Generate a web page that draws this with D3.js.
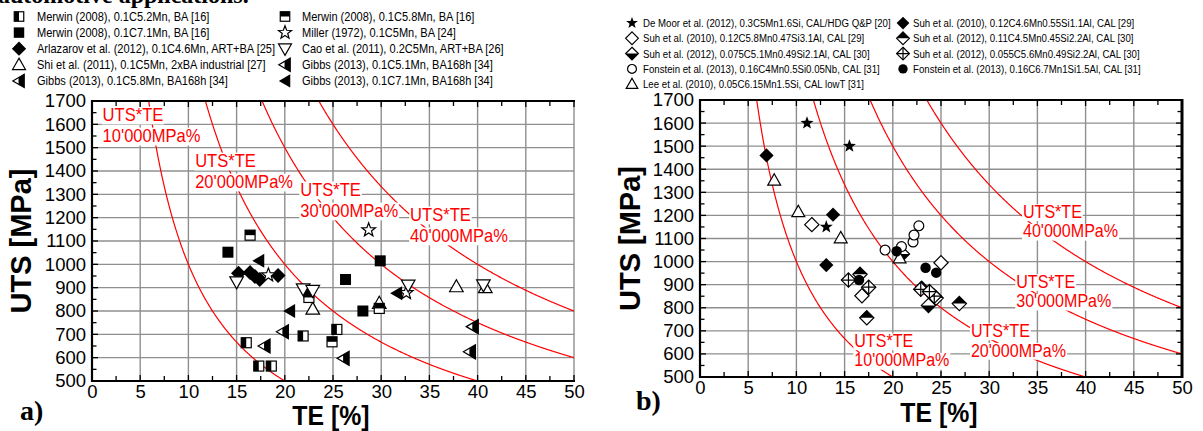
<!DOCTYPE html>
<html><head><meta charset="utf-8">
<script src="https://cdn.jsdelivr.net/npm/d3@7"></script>
<style>
body{margin:0;background:#fff}
svg{display:block}
text{font-family:'Liberation Sans',Arial,sans-serif}
</style>
</head><body>
<svg id="c" width="1203" height="431"></svg>
<script>
// ---------- shared axis data ----------
const xTicks = [0,5,10,15,20,25,30,35,40,45,50];
const yTicks = [500,600,700,800,900,1000,1100,1200,1300,1400,1500,1600,1700];
const productLevels = [10000,20000,30000,40000];
const productLabels = ["10'000MPa%","20'000MPa%","30'000MPa%","40'000MPa%"];
const productTitle = "UTS*TE";
// label anchors (TE, UTS) for each iso-product curve
const leftLabelTE = [1.1, 10.7, 21.6, 33.0];
const leftLabelUTS = [1613, 1416, 1292, 1185];
const rightLabelTE = [16.0, 28.1, 32.8, 33.5];
const rightLabelUTS = [630, 673, 886, 1189];

// ---------- panel a) series ----------
const merwin52TE = [16.0, 17.3, 18.6, 21.9, 25.4];
const merwin52UTS = [664, 564, 564, 693, 721];
const merwin58TE = [16.4, 22.5, 24.9, 29.8];
const merwin58UTS = [1125, 858, 668, 811];
const merwin71TE = [14.1, 22.5, 26.3, 28.1, 29.9];
const merwin71UTS = [1052, 878, 935, 800, 1015];
const millerTE = [18.3, 28.7, 32.6];
const millerUTS = [954, 1147, 878];
const arlazarovTE = [15.2, 16.4, 16.9, 17.4, 19.3];
const arlazarovUTS = [962, 965, 948, 935, 952];
const caoTE = [15.0, 21.9, 22.9, 32.8, 40.6];
const caoUTS = [925, 895, 888, 911, 912];
const shiTE = [22.9, 29.8, 37.8, 40.8];
const shiUTS = [808, 833, 904, 900];
const gibbs51TE = [17.9, 26.1, 39.2];
const gibbs51UTS = [650, 597, 625];
const gibbs58TE = [19.8, 39.5];
const gibbs58UTS = [711, 733];
const gibbs71TE = [17.3, 20.5, 31.6];
const gibbs71UTS = [1015, 800, 876];

// ---------- panel b) series ----------
const deMoorTE = [11.1, 15.5, 13.1];
const deMoorUTS = [1600, 1500, 1150];
const suh10aTE = [6.9, 13.8, 13.1, 23.0];
const suh10aUTS = [1460, 1203, 985, 888];
const suh10bTE = [11.6, 25.0, 16.8];
const suh10bUTS = [1160, 995, 852];
const suh12aTE = [23.7, 21.0];
const suh12aUTS = [810, 1033];
const suh12bTE = [16.6, 17.3, 26.9, 24.5];
const suh12bUTS = [945, 757, 818, 842];
const suh12cTE = [15.4, 17.5, 22.9, 24.3, 23.8];
const suh12cUTS = [920, 889, 880, 850, 870];
const fonsteinOTE = [19.2, 20.9, 22.1, 22.2, 22.7];
const fonsteinOUTS = [1050, 1065, 1085, 1115, 1155];
const fonsteinFTE = [20.4, 16.5, 23.4, 24.5];
const fonsteinFUTS = [1045, 920, 973, 952];
const leeTE = [7.7, 10.2, 14.6, 20.7];
const leeUTS = [1352, 1215, 1102, 1015];

const leftSeries = [
  {name:"Merwin (2008), 0.1C5.2Mn, BA [16]", m:"sqL", te:merwin52TE, uts:merwin52UTS},
  {name:"Merwin (2008), 0.1C7.1Mn, BA [16]", m:"sqF", te:merwin71TE, uts:merwin71UTS},
  {name:"Arlazarov et al. (2012), 0.1C4.6Mn, ART+BA [25]", m:"diaF", te:arlazarovTE, uts:arlazarovUTS},
  {name:"Shi et al. (2011), 0.1C5Mn, 2xBA industrial [27]", m:"triU", te:shiTE, uts:shiUTS},
  {name:"Gibbs (2013), 0.1C5.8Mn, BA168h [34]", m:"triLH", te:gibbs58TE, uts:gibbs58UTS},
  {name:"Merwin (2008), 0.1C5.8Mn, BA [16]", m:"sqT", te:merwin58TE, uts:merwin58UTS},
  {name:"Miller (1972), 0.1C5Mn, BA [24]", m:"starO", te:millerTE, uts:millerUTS},
  {name:"Cao et al. (2011), 0.2C5Mn, ART+BA [26]", m:"triD", te:caoTE, uts:caoUTS},
  {name:"Gibbs (2013), 0.1C5.1Mn, BA168h [34]", m:"triLH", te:gibbs51TE, uts:gibbs51UTS},
  {name:"Gibbs (2013), 0.1C7.1Mn, BA168h [34]", m:"triLF", te:gibbs71TE, uts:gibbs71UTS}
];
const rightSeries = [
  {name:"De Moor et al. (2012), 0.3C5Mn1.6Si, CAL/HDG Q&P [20]", m:"starF", te:deMoorTE, uts:deMoorUTS},
  {name:"Suh et al. (2010), 0.12C5.8Mn0.47Si3.1Al, CAL [29]", m:"diaO", te:suh10bTE, uts:suh10bUTS},
  {name:"Suh et al. (2012), 0.075C5.1Mn0.49Si2.1Al, CAL [30]", m:"diaB", te:suh12aTE, uts:suh12aUTS},
  {name:"Fonstein et al. (2013), 0.16C4Mn0.5Si0.05Nb, CAL [31]", m:"cirO", te:fonsteinOTE, uts:fonsteinOUTS},
  {name:"Lee et al. (2010), 0.05C6.15Mn1.5Si, CAL lowT [31]", m:"triU", te:leeTE, uts:leeUTS},
  {name:"Suh et al. (2010), 0.12C4.6Mn0.55Si1.1Al, CAL [29]", m:"diaF", te:suh10aTE, uts:suh10aUTS},
  {name:"Suh et al. (2012), 0.11C4.5Mn0.45Si2.2Al, CAL [30]", m:"diaT", te:suh12bTE, uts:suh12bUTS},
  {name:"Suh et al. (2012), 0.055C5.6Mn0.49Si2.2Al, CAL [30]", m:"diaX", te:suh12cTE, uts:suh12cUTS},
  {name:"Fonstein et al. (2013), 0.16C6.7Mn1Si1.5Al, CAL [31]", m:"cirF", te:fonsteinFTE, uts:fonsteinFUTS}
];

const svg = d3.select("#c");
const GRID = "#8f8f8f";

// text with horizontal compression (narrow face look)
function ntext(g, x, y, str, size, sx, opts) {
  opts = opts || {};
  const t = g.append("text")
    .attr("transform", `translate(${x},${y}) scale(${sx},1)`)
    .attr("font-size", size).text(str);
  if (opts.anchor) t.attr("text-anchor", opts.anchor);
  if (opts.weight) t.attr("font-weight", opts.weight);
  if (opts.fill) t.attr("fill", opts.fill);
  if (opts.dy) t.attr("dy", opts.dy);
  return t;
}

function marker(g, type, x, y, k) {
  k = k || 1;
  const m = g.append("g").attr("transform", `translate(${x},${y}) scale(${k})`);
  const sw = 1.2 / k;
  const poly = pts => "M" + pts.map(p => p.join(",")).join("L") + "Z";
  const star = () => {
    const pts = [];
    for (let i = 0; i < 10; i++) {
      const r = i % 2 ? 3.0 : 7.2, a = -Math.PI/2 + i*Math.PI/5;
      pts.push([(r*Math.cos(a)).toFixed(2), (r*Math.sin(a)).toFixed(2)]);
    }
    return poly(pts);
  };
  const dia = poly([[0,-7.5],[7.5,0],[0,7.5],[-7.5,0]]);
  const W = "#fff", B = "#000";
  switch (type) {
    case "sqL":
      m.append("rect").attr("x",-5).attr("y",-5).attr("width",10).attr("height",10).attr("fill",W).attr("stroke",B).attr("stroke-width",sw);
      m.append("rect").attr("x",-5).attr("y",-5).attr("width",5).attr("height",10).attr("fill",B);
      break;
    case "sqT":
      m.append("rect").attr("x",-5).attr("y",-5).attr("width",10).attr("height",10).attr("fill",W).attr("stroke",B).attr("stroke-width",sw);
      m.append("rect").attr("x",-5).attr("y",-5).attr("width",10).attr("height",5).attr("fill",B);
      break;
    case "sqF":
      m.append("rect").attr("x",-5.5).attr("y",-5.5).attr("width",11).attr("height",11).attr("fill",B);
      break;
    case "starO":
      m.append("path").attr("d",star()).attr("fill",W).attr("stroke",B).attr("stroke-width",sw);
      break;
    case "starF":
      m.append("path").attr("d",star()).attr("fill",B);
      break;
    case "diaF":
      m.append("path").attr("d",dia).attr("fill",B);
      break;
    case "diaO":
      m.append("path").attr("d",dia).attr("fill",W).attr("stroke",B).attr("stroke-width",sw);
      break;
    case "diaT":
      m.append("path").attr("d",dia).attr("fill",W).attr("stroke",B).attr("stroke-width",sw);
      m.append("path").attr("d",poly([[-7.5,0],[0,-7.5],[7.5,0]])).attr("fill",B);
      break;
    case "diaB":
      m.append("path").attr("d",dia).attr("fill",W).attr("stroke",B).attr("stroke-width",sw);
      m.append("path").attr("d",poly([[-7.5,0],[0,7.5],[7.5,0]])).attr("fill",B);
      break;
    case "diaX":
      m.append("path").attr("d",dia).attr("fill",W).attr("stroke",B).attr("stroke-width",sw);
      m.append("path").attr("d","M0,-7.5V7.5M-7.5,0H7.5").attr("stroke",B).attr("stroke-width",sw);
      break;
    case "triU":
      m.append("path").attr("d",poly([[0,-7],[6.8,5],[-6.8,5]])).attr("fill",W).attr("stroke",B).attr("stroke-width",sw);
      break;
    case "triD":
      m.append("path").attr("d",poly([[0,7],[6.8,-5],[-6.8,-5]])).attr("fill",W).attr("stroke",B).attr("stroke-width",sw);
      break;
    case "triLH":
      m.append("path").attr("d",poly([[-6.5,0],[5.5,-7],[5.5,7]])).attr("fill",W).attr("stroke",B).attr("stroke-width",sw);
      m.append("path").attr("d",poly([[-0.5,-3.5],[5.5,-7],[5.5,7],[-0.5,3.5]])).attr("fill",B);
      break;
    case "triLF":
      m.append("path").attr("d",poly([[-6.5,0],[5.5,-7],[5.5,7]])).attr("fill",B);
      break;
    case "cirO":
      m.append("circle").attr("r",5.2).attr("fill",W).attr("stroke",B).attr("stroke-width",sw);
      break;
    case "cirF":
      m.append("circle").attr("r",5.5).attr("fill",B);
      break;
  }
}

function panel(cfg) {
  const x = d3.scaleLinear().domain([0,50]).range([cfg.x0, cfg.x1]);
  const y = d3.scaleLinear().domain([500,1700]).range([cfg.y0, cfg.y1]);
  const g = svg.append("g");
  const clipId = "clip" + cfg.id;
  svg.append("clipPath").attr("id", clipId).append("rect")
    .attr("x", cfg.x0).attr("y", cfg.y1).attr("width", cfg.x1 - cfg.x0).attr("height", cfg.y0 - cfg.y1);

  // grid
  g.selectAll(".vg").data(xTicks.filter(t => t > 0 && (t < 50 || !cfg.rightFrame))).enter().append("line")
    .attr("x1", d => x(d)).attr("x2", d => x(d)).attr("y1", cfg.y0).attr("y2", cfg.y1)
    .attr("stroke", GRID).attr("stroke-width", 1.4);
  g.selectAll(".hg").data(yTicks.filter(t => t > 500 && t < 1700)).enter().append("line")
    .attr("y1", d => y(d)).attr("y2", d => y(d)).attr("x1", cfg.x0).attr("x2", cfg.x1)
    .attr("stroke", GRID).attr("stroke-width", 1.4);

  // iso-product curves
  const line = d3.line().x(d => x(d[0])).y(d => y(d[1]));
  const cg = g.append("g").attr("clip-path", `url(#${clipId})`);
  productLevels.forEach(k => {
    const pts = d3.range(k/1800, 50.05, 0.05).map(te => [te, k/te]);
    cg.append("path").attr("d", line(pts)).attr("fill","none").attr("stroke","#ff0000").attr("stroke-width",1.2);
  });

  // curve labels with white backing
  productLevels.forEach((k, i) => {
    const lx = x(cfg.labelTE[i]), ly = y(cfg.labelUTS[i]);
    [productTitle, productLabels[i]].forEach((s, j) => {
      const t = ntext(g, lx, ly + j*cfg.lineGap, s, cfg.labelSize, cfg.labelSx, {fill:"#ff0000"});
      const b = t.node().getBBox();
      g.insert("rect", () => t.node())
        .attr("x", lx + (b.x - 1) * cfg.labelSx).attr("y", ly + j*cfg.lineGap + b.y + 2)
        .attr("width", (b.width + 2) * cfg.labelSx).attr("height", b.height - 3).attr("fill","#fff");
    });
  });

  // markers
  const mg = g.append("g");
  cfg.series.forEach(s => {
    s.te.forEach((te, i) => marker(mg, s.m, x(te), y(s.uts[i]), cfg.mScale));
  });

  // axes frame
  const ag = g.append("g").attr("stroke","#000");
  ag.append("line").attr("x1", cfg.x0).attr("x2", cfg.x0).attr("y1", cfg.y0+1).attr("y2", cfg.y1-1).attr("stroke-width", 2.2);
  ag.append("line").attr("x1", cfg.x0-1).attr("x2", cfg.x1+1).attr("y1", cfg.y0).attr("y2", cfg.y0).attr("stroke-width", 2.2);
  ag.append("line").attr("x1", cfg.x0-1).attr("x2", cfg.x1+1).attr("y1", cfg.y1).attr("y2", cfg.y1).attr("stroke-width", 2.2);
  if (cfg.rightFrame) ag.append("line").attr("x1", cfg.x1).attr("x2", cfg.x1).attr("y1", cfg.y0+1).attr("y2", cfg.y1-1).attr("stroke-width", 3);

  // tick marks (major + minor), pointing inward
  const xt = d3.range(0, 50.01, 2.5);
  const yt = d3.range(500, 1700.01, 50);
  xt.forEach(v => {
    const len = v % 5 === 0 ? 6 : 5;
    ag.append("line").attr("x1", x(v)).attr("x2", x(v)).attr("y1", cfg.y0).attr("y2", cfg.y0 - len).attr("stroke-width", 1.3);
    ag.append("line").attr("x1", x(v)).attr("x2", x(v)).attr("y1", cfg.y1).attr("y2", cfg.y1 + len).attr("stroke-width", 1.3);
  });
  yt.forEach(v => {
    const len = v % 100 === 0 ? 6 : 4.5;
    ag.append("line").attr("x1", cfg.x0).attr("x2", cfg.x0 + len).attr("y1", y(v)).attr("y2", y(v)).attr("stroke-width", 1.3);
    if (cfg.rightFrame) ag.append("line").attr("x1", cfg.x1).attr("x2", cfg.x1 - len).attr("y1", y(v)).attr("y2", y(v)).attr("stroke-width", 1.3);
  });

  // tick labels via d3 axes
  const xa = g.append("g").attr("transform", `translate(0,${cfg.y0})`)
    .call(d3.axisBottom(x).tickValues(xTicks).tickSize(0).tickPadding(4).tickFormat(d3.format("d")));
  xa.select(".domain").remove();
  xa.selectAll("text").attr("font-size", 18.5).attr("fill","#000").style("font-family","'Liberation Sans',Arial,sans-serif");
  const ya = g.append("g").attr("transform", `translate(${cfg.x0},0)`)
    .call(d3.axisLeft(y).tickValues(yTicks).tickSize(0).tickPadding(6).tickFormat(d3.format("d")));
  ya.select(".domain").remove();
  ya.selectAll("text").attr("font-size", 18.5).attr("fill","#000").style("font-family","'Liberation Sans',Arial,sans-serif");

  // axis titles
  ntext(g, (cfg.x0 + cfg.x1)/2 + cfg.titleDx, cfg.titleY, "TE [%]", 27, 0.92, {anchor:"middle", weight:"bold"});
  g.append("text").attr("transform", `translate(${cfg.yTitleX},${(cfg.y0+cfg.y1)/2}) rotate(-90)`)
    .attr("text-anchor","middle").attr("font-weight","bold").attr("font-size",29).text("UTS [MPa]");
  g.append("text").attr("x", cfg.tagX).attr("y", cfg.tagY)
    .attr("font-weight","bold").attr("font-size",28).style("font-family","'Liberation Serif','Times New Roman',serif").text(cfg.tag);

  // legend
  cfg.series.forEach((s, i) => {
    const col = i < cfg.legendRows ? 0 : 1;
    const row = col ? i - cfg.legendRows : i;
    const ly = cfg.legY0 + row * cfg.legDy;
    marker(svg, s.m, cfg.legMarkerX[col], ly, cfg.legScale);
    ntext(svg, cfg.legTextX[col], ly, s.name, cfg.legFont, cfg.legSx, {dy:"0.35em"});
  });
}

// cropped caption of the surrounding document
svg.append("text").attr("x", -2).attr("y", 3).attr("font-size", 24).attr("font-weight","bold")
  .style("font-family","'Liberation Serif','Times New Roman',serif").text("automotive applications.");

panel({id:"a", x0:92, x1:574, y0:381, y1:101, series:leftSeries, rightFrame:false,
  labelTE:leftLabelTE, labelUTS:leftLabelUTS, lineGap:21, labelSize:18, labelSx:0.92, mScale:1,
  titleY:425, titleDx:-2, yTitleX:31, tagX:20, tagY:420, tag:"a)",
  legendRows:5, legY0:16.5, legDy:16.1, legMarkerX:[19,285], legTextX:[37,302], legFont:13, legSx:0.85, legScale:0.95});

panel({id:"b", x0:700, x1:1182, y0:377, y1:100, series:rightSeries, rightFrame:true,
  labelTE:rightLabelTE, labelUTS:rightLabelUTS, lineGap:19.5, labelSize:17.5, labelSx:0.92, mScale:0.95,
  titleY:422, titleDx:-2, yTitleX:640, tagX:636, tagY:410, tag:"b)",
  legendRows:5, legY0:23, legDy:15.3, legMarkerX:[632,903], legTextX:[643,913], legFont:11.5, legSx:0.84, legScale:0.85});
</script>
</body></html>
